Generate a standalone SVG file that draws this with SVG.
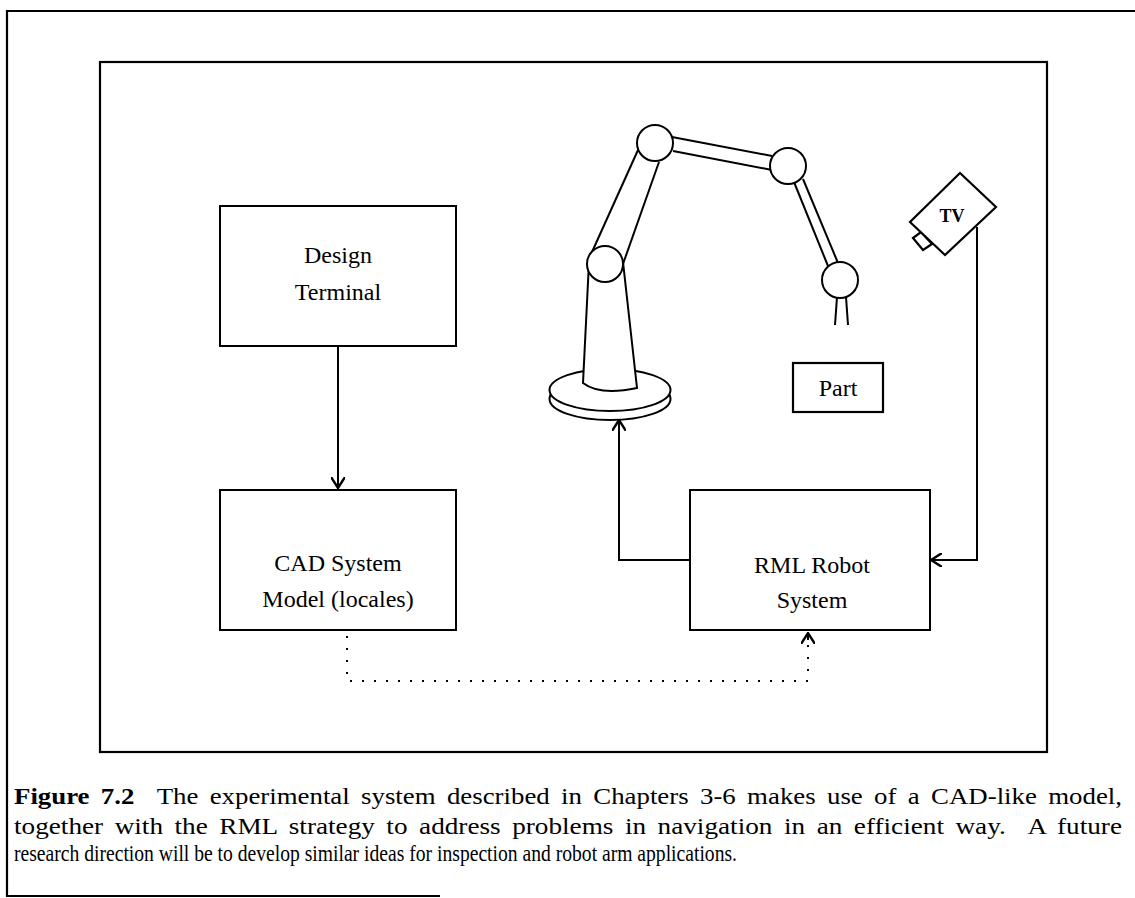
<svg xmlns="http://www.w3.org/2000/svg" width="1135" height="898" viewBox="0 0 1135 898">
  <style>
    .frame { fill: none; stroke: #000; stroke-width: 2.2; }
    .box { fill: #fff; stroke: #000; stroke-width: 2; }
    .line { fill: none; stroke: #000; stroke-width: 2; }
    .part { fill: #fff; stroke: #000; stroke-width: 2.2; }
    .label { font-family: "Liberation Serif", "Times New Roman", serif; font-size: 24px; fill: #000; text-anchor: middle; }
    .caption { font-family: "Liberation Serif", "Times New Roman", serif; font-size: 23px; fill: #000; }
    .wide { word-spacing: 4px; }
    .dotted { fill: none; stroke: #000; stroke-width: 2; stroke-dasharray: 2 10; }
  </style>
  <defs>
    <marker id="vhead" viewBox="0 0 12 14" refX="11" refY="7" markerWidth="12" markerHeight="14" markerUnits="userSpaceOnUse" orient="auto">
      <path d="M0,0 L11,7 L0,14" fill="none" stroke="#000" stroke-width="2.4"/>
    </marker>
  </defs>

  <rect width="1135" height="898" fill="#fff"/>

  <!-- outer figure frame (open on the right) -->
  <path class="frame" d="M1135,11 H7 V896 H440"/>
  <!-- inner drawing frame -->
  <rect class="frame" x="100" y="62" width="947" height="690"/>

  <!-- connectors -->
  <g id="connectors">
    <path class="line" d="M338,346 V488" marker-end="url(#vhead)"/>
    <path class="line" d="M690,560 H619 V420" marker-end="url(#vhead)"/>
    <path class="line" d="M977,227 V560 H931" marker-end="url(#vhead)"/>
    <path class="dotted" d="M347,636 V681 H808 V634"/>
    <path class="line" d="M808,640 V633" marker-end="url(#vhead)"/>
  </g>

  <g id="design-terminal">
    <rect class="box" x="220" y="206" width="236" height="140"/>
    <text class="label" x="338" y="263">Design</text>
    <text class="label" x="338" y="300">Terminal</text>
  </g>

  <g id="cad-system">
    <rect class="box" x="220" y="490" width="236" height="140"/>
    <text class="label" x="338" y="571">CAD System</text>
    <text class="label" x="338" y="607">Model (locales)</text>
  </g>

  <g id="rml-robot-system">
    <rect class="box" x="690" y="490" width="240" height="140"/>
    <text class="label" x="812" y="573">RML Robot</text>
    <text class="label" x="812" y="608">System</text>
  </g>

  <g id="part">
    <rect class="part" x="793" y="363" width="90" height="49"/>
    <text class="label" x="838" y="396">Part</text>
  </g>

  <g id="tv-camera">
    <polygon class="part" points="913,238 923,250 932,244 921,232"/>
    <polygon class="part" points="960,173 996,207 945,255 910,222"/>
    <text x="952" y="222" font-family="Liberation Serif, serif" font-size="18" font-weight="bold" text-anchor="middle">TV</text>
  </g>

  <g id="robot-arm">
    <!-- turntable base -->
    <ellipse class="box" cx="610" cy="399" rx="60.5" ry="21"/>
    <ellipse class="box" cx="610" cy="390" rx="60.5" ry="21"/>
    <!-- column -->
    <path class="box" d="M589,262 L583,383 Q600,396 637,388 L623,262 Z"/>
    <!-- lower arm -->
    <line class="line" x1="592" y1="252" x2="638" y2="150"/>
    <line class="line" x1="623" y1="264" x2="659" y2="162"/>
    <!-- upper arm -->
    <line class="line" x1="672" y1="137" x2="772" y2="156"/>
    <line class="line" x1="673" y1="151" x2="772" y2="170"/>
    <!-- forearm -->
    <line class="line" x1="794" y1="182" x2="828" y2="266"/>
    <line class="line" x1="803" y1="179" x2="838" y2="263"/>
    <!-- gripper fingers -->
    <line class="line" x1="837" y1="297" x2="835" y2="325"/>
    <line class="line" x1="846" y1="297" x2="848" y2="325"/>
    <!-- joints -->
    <circle class="box" cx="605" cy="264" r="18"/>
    <circle class="box" cx="655" cy="143" r="18"/>
    <circle class="box" cx="788" cy="166" r="18"/>
    <circle class="box" cx="840" cy="280" r="18"/>
  </g>

  <g id="caption">
    <text class="caption wide" x="14" y="804" textLength="1108" lengthAdjust="spacingAndGlyphs" xml:space="preserve"><tspan font-weight="bold">Figure 7.2</tspan>  The experimental system described in Chapters 3-6 makes use of a CAD-like model,</text>
    <text class="caption wide" x="14" y="834" textLength="1108" lengthAdjust="spacingAndGlyphs" xml:space="preserve">together with the RML strategy to address problems in navigation in an efficient way.  A future</text>
    <text class="caption" x="14" y="861" textLength="723" lengthAdjust="spacingAndGlyphs">research direction will be to develop similar ideas for inspection and robot arm applications.</text>
  </g>
</svg>
